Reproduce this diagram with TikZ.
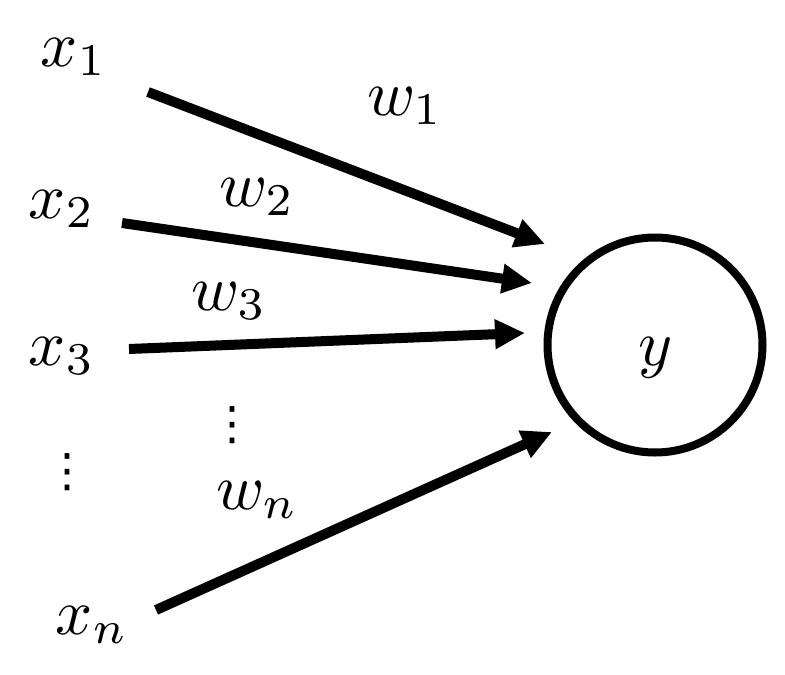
\documentclass[tikz,border=0pt]{standalone}
\usepackage{fontspec}
\usetikzlibrary{arrows.meta}
\newfontfamily\djv{DejaVu Sans}
\begin{document}
\begin{tikzpicture}[x=1pt,y=-1pt,
  lbl/.style={inner sep=0pt, scale=6.5},
  dts/.style={inner sep=0pt, scale=4.6, font=\djv},
  conn/.style={line width=10pt, -{Triangle[length=30pt,width=28pt]}},
  unit/.style={circle, draw, line width=8pt, minimum size=215pt, inner sep=0pt}]
\useasboundingbox (0,0) rectangle (785,675);
% neuron
\node[unit] (u) at (655,345) {};
\node[lbl] (y) at (656,358) {$y$};
% inputs
\node[lbl] (x1) at (74,57) {$x_1$};
\node[lbl] (x2) at (62,209) {$x_2$};
\node[lbl] (x3) at (62,356) {$x_3$};
\node[dts] (xd) at (68,472) {⋮};
\node[lbl] (xn) at (92,625) {$x_n$};
% weights
\node[lbl] (w1) at (405,106) {$w_1$};
\node[lbl] (w2) at (257,197) {$w_2$};
\node[lbl] (w3) at (229,301) {$w_3$};
\node[dts] (wd) at (232,425) {⋮};
\node[lbl] (wn) at (257,500) {$w_n$};
% connector ends
\coordinate (s1) at (148,92);
\coordinate (s2) at (122,223);
\coordinate (s3) at (129,349);
\coordinate (sn) at (156,610);
\coordinate (e1) at (545,244);
\coordinate (e2) at (532,283);
\coordinate (e3) at (525,333);
\coordinate (en) at (552,432);
\draw[conn] (s1) -- (e1);
\draw[conn] (s2) -- (e2);
\draw[conn] (s3) -- (e3);
\draw[conn] (sn) -- (en);
\end{tikzpicture}
\end{document}
